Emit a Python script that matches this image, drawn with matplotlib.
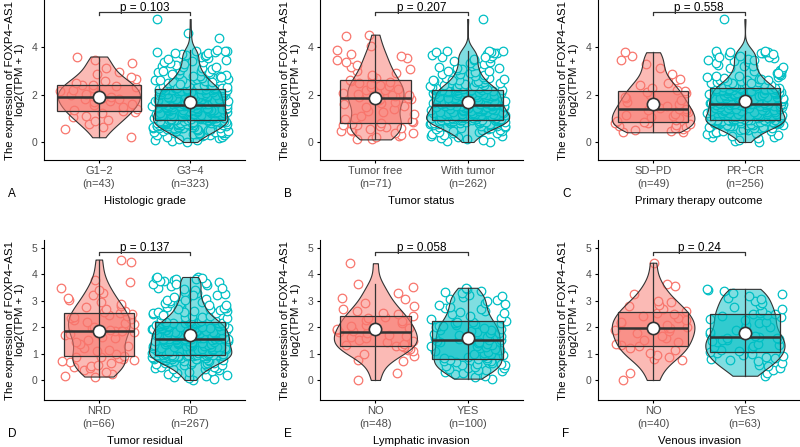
import matplotlib.pyplot as plt
import numpy as np
from matplotlib.colors import to_rgba
from matplotlib.patches import Rectangle

plt.rcParams["font.family"] = ["Liberation Sans", "DejaVu Sans"]

# ---- data (log2(TPM + 1) of FOXP4-AS1) ----
G1_2 = [0.20, 0.55, 0.63, 0.76, 0.87, 0.93, 1.06, 1.11, 1.22, 1.27,
        1.31, 1.34, 1.41, 1.47, 1.56, 1.58, 1.67, 1.71, 1.79, 1.82, 1.86,
        1.88, 1.93, 1.96, 2.03, 2.07, 2.16, 2.19, 2.27, 2.31, 2.34, 2.39,
        2.42, 2.49, 2.57, 2.66, 2.74, 2.86, 2.94, 3.12, 3.31, 3.46, 3.60]

G3_4 = [0.00, 0.04, 0.07, 0.10, 0.13, 0.16, 0.19, 0.22, 0.25, 0.28,
        0.29, 0.30, 0.31, 0.33, 0.34, 0.36, 0.37, 0.39, 0.40, 0.41,
        0.43, 0.44, 0.45, 0.47, 0.48, 0.49, 0.50, 0.51, 0.52, 0.53,
        0.55, 0.56, 0.57, 0.58, 0.59, 0.60, 0.60, 0.61, 0.62, 0.63,
        0.64, 0.64, 0.65, 0.66, 0.67, 0.67, 0.68, 0.69, 0.70, 0.70,
        0.71, 0.72, 0.73, 0.73, 0.74, 0.75, 0.76, 0.76, 0.77, 0.78,
        0.79, 0.79, 0.80, 0.81, 0.82, 0.82, 0.83, 0.84, 0.85, 0.85,
        0.86, 0.86, 0.87, 0.87, 0.88, 0.88, 0.89, 0.89, 0.90, 0.90,
        0.91, 0.91, 0.92, 0.93, 0.93, 0.94, 0.95, 0.96, 0.96, 0.97,
        0.98, 0.99, 0.99, 1.00, 1.01, 1.02, 1.02, 1.03, 1.04, 1.05,
        1.06, 1.06, 1.07, 1.08, 1.09, 1.09, 1.10, 1.11, 1.12, 1.13,
        1.14, 1.14, 1.15, 1.16, 1.17, 1.18, 1.18, 1.19, 1.20, 1.21,
        1.22, 1.23, 1.23, 1.24, 1.25, 1.26, 1.27, 1.27, 1.28, 1.29,
        1.30, 1.31, 1.31, 1.32, 1.33, 1.34, 1.35, 1.35, 1.36, 1.37,
        1.38, 1.39, 1.39, 1.40, 1.41, 1.42, 1.43, 1.43, 1.44, 1.45,
        1.46, 1.47, 1.47, 1.48, 1.49, 1.50, 1.51, 1.51, 1.52, 1.53,
        1.54, 1.55, 1.56, 1.57, 1.58, 1.58, 1.59, 1.60, 1.61, 1.62,
        1.63, 1.64, 1.65, 1.65, 1.66, 1.67, 1.68, 1.69, 1.70, 1.71,
        1.72, 1.72, 1.73, 1.74, 1.75, 1.76, 1.77, 1.78, 1.79, 1.80,
        1.80, 1.81, 1.82, 1.83, 1.84, 1.85, 1.86, 1.87, 1.88, 1.88,
        1.89, 1.90, 1.91, 1.92, 1.93, 1.94, 1.95, 1.96, 1.97, 1.98,
        1.99, 2.00, 2.01, 2.02, 2.03, 2.04, 2.05, 2.06, 2.07, 2.08,
        2.09, 2.10, 2.11, 2.12, 2.13, 2.14, 2.15, 2.16, 2.17, 2.18,
        2.19, 2.19, 2.20, 2.20, 2.21, 2.21, 2.22, 2.22, 2.22, 2.23,
        2.23, 2.24, 2.25, 2.26, 2.28, 2.29, 2.30, 2.31, 2.33, 2.34,
        2.35, 2.37, 2.38, 2.40, 2.41, 2.43, 2.44, 2.46, 2.47, 2.49,
        2.50, 2.52, 2.54, 2.55, 2.57, 2.59, 2.61, 2.63, 2.65, 2.67,
        2.69, 2.71, 2.73, 2.76, 2.78, 2.80, 2.83, 2.85, 2.88, 2.90,
        2.93, 2.96, 2.99, 3.02, 3.05, 3.08, 3.11, 3.14, 3.17, 3.20,
        3.23, 3.27, 3.31, 3.35, 3.39, 3.43, 3.47, 3.51, 3.55, 3.59,
        3.62, 3.65, 3.68, 3.71, 3.74, 3.76, 3.78, 3.80, 3.82, 3.84,
        2.27, 2.36, 2.45, 2.53, 2.62, 2.72, 2.86, 3.00,
        3.85, 3.86, 4.40, 4.58, 5.18]

TUMOR_FREE = [0.11, 0.14, 0.19, 0.25, 0.30, 0.36, 0.40, 0.45, 0.48, 0.52,
              0.55, 0.58, 0.62, 0.66, 0.70, 0.73, 0.77, 0.80,
              0.84, 0.90, 0.97, 1.03, 1.10, 1.18, 1.25, 1.32, 1.40, 1.47,
              1.53, 1.59, 1.65, 1.70, 1.75, 1.79, 1.83, 1.85,
              1.88, 1.92, 1.96, 2.00, 2.04, 2.08, 2.12, 2.17, 2.21, 2.25,
              2.30, 2.35, 2.39, 2.44, 2.49, 2.54, 2.58,
              2.62, 2.68, 2.75, 2.82, 2.90, 2.98, 3.06, 3.15, 3.24, 3.35,
              3.46, 3.55, 3.63, 3.72, 3.86, 4.05, 4.45, 4.52]

WITH_TUMOR = [0.00, 0.04, 0.09, 0.13, 0.17, 0.21, 0.24, 0.27, 0.31, 0.33,
              0.36, 0.38, 0.41, 0.43, 0.45, 0.47, 0.49, 0.52, 0.53, 0.55,
              0.57, 0.58, 0.60, 0.61, 0.63, 0.64, 0.66, 0.67, 0.68, 0.70,
              0.71, 0.72, 0.73, 0.74, 0.75, 0.76, 0.77, 0.78, 0.79, 0.80,
              0.81, 0.82, 0.82, 0.83, 0.84, 0.85, 0.85, 0.86, 0.87, 0.87,
              0.88, 0.88, 0.89, 0.89, 0.90, 0.90, 0.91, 0.91, 0.92, 0.92,
              0.92, 0.93, 0.93, 0.93, 0.93,
              0.94, 0.95, 0.96, 0.96, 0.97, 0.98, 0.99, 1.00, 1.01, 1.01,
              1.02, 1.03, 1.04, 1.05, 1.06, 1.06, 1.07, 1.08, 1.09, 1.10,
              1.11, 1.12, 1.12, 1.13, 1.14, 1.15, 1.16, 1.17, 1.18, 1.19,
              1.20, 1.21, 1.22, 1.23, 1.24, 1.25, 1.26, 1.27, 1.28, 1.29,
              1.30, 1.31, 1.32, 1.33, 1.34, 1.35, 1.36, 1.37, 1.38, 1.39,
              1.40, 1.41, 1.42, 1.43, 1.44, 1.45, 1.46, 1.47, 1.48, 1.49,
              1.50, 1.51, 1.52, 1.52, 1.53, 1.54,
              1.55, 1.56, 1.57, 1.58, 1.59, 1.60, 1.61, 1.62, 1.63, 1.64,
              1.65, 1.66, 1.67, 1.68, 1.69, 1.70, 1.71, 1.72, 1.73, 1.74,
              1.75, 1.76, 1.77, 1.79, 1.80, 1.81, 1.82, 1.83, 1.85, 1.86,
              1.87, 1.88, 1.89, 1.91, 1.92, 1.93, 1.94, 1.96, 1.97, 1.98,
              1.99, 2.01, 2.02, 2.03, 2.04, 2.06, 2.07, 2.08, 2.09, 2.10,
              2.11, 2.12, 2.13, 2.14, 2.15, 2.15, 2.16, 2.16, 2.17, 2.17,
              2.18, 2.18, 2.18, 2.19, 2.19,
              2.20, 2.22, 2.23, 2.25, 2.26, 2.28, 2.29, 2.31, 2.32, 2.34,
              2.36, 2.37, 2.39, 2.41, 2.43, 2.45, 2.47, 2.49, 2.51, 2.53,
              2.55, 2.57, 2.59, 2.62, 2.64, 2.66, 2.69, 2.71, 2.74, 2.76,
              2.79, 2.82, 2.85, 2.88, 2.91, 2.94, 2.97, 3.00, 3.04, 3.08,
              3.12, 3.16, 3.20, 3.24, 3.28, 3.32, 3.36, 3.41, 3.46, 3.51,
              3.55, 3.59, 3.63, 3.67, 3.70, 3.73, 3.76, 3.78, 3.80, 3.82,
              3.84, 3.85, 3.60, 3.10, 2.60, 5.18]

SD_PD = [0.41, 0.43, 0.46, 0.50, 0.55, 0.58, 0.62, 0.66, 0.70, 0.74, 0.78, 0.81,
         0.84,
         0.89, 0.94, 0.99, 1.05, 1.10, 1.15, 1.20, 1.25, 1.30, 1.34, 1.38,
         1.40,
         1.45, 1.51, 1.58, 1.64, 1.70, 1.77, 1.84, 1.91, 1.98, 2.05, 2.10,
         2.13,
         2.20, 2.28, 2.38, 2.50, 2.62, 2.64, 2.88, 3.10, 3.30, 3.45, 3.62, 3.78]

PR_CR = [0.00, 0.05, 0.10, 0.15, 0.19, 0.23, 0.27, 0.30, 0.33, 0.36,
         0.39, 0.41, 0.44, 0.46, 0.48, 0.50, 0.52, 0.54, 0.56, 0.58,
         0.59, 0.61, 0.62, 0.64, 0.65, 0.66, 0.68, 0.69, 0.70, 0.71,
         0.72, 0.73, 0.74, 0.75, 0.76, 0.77, 0.78, 0.79, 0.80, 0.80,
         0.81, 0.82, 0.83, 0.83, 0.84, 0.85, 0.85, 0.86, 0.87, 0.87,
         0.88, 0.88, 0.89, 0.89, 0.90, 0.90, 0.91, 0.91, 0.92, 0.92,
         0.92, 0.93, 0.93, 0.93,
         0.94, 0.95, 0.96, 0.97, 0.98, 0.99, 1.00, 1.01, 1.02, 1.03,
         1.04, 1.05, 1.06, 1.07, 1.09, 1.10, 1.11, 1.12, 1.13, 1.14,
         1.15, 1.16, 1.18, 1.19, 1.20, 1.21, 1.22, 1.23, 1.24, 1.26,
         1.27, 1.28, 1.29, 1.30, 1.31, 1.33, 1.34, 1.35, 1.36, 1.37,
         1.39, 1.40, 1.41, 1.42, 1.43, 1.45, 1.46, 1.47, 1.48, 1.49,
         1.50, 1.51, 1.52, 1.53, 1.54, 1.55, 1.56, 1.57, 1.58, 1.58,
         1.59, 1.59, 1.60, 1.60,
         1.61, 1.62, 1.63, 1.64, 1.65, 1.66, 1.67, 1.68, 1.69, 1.70,
         1.71, 1.72, 1.73, 1.74, 1.75, 1.77, 1.78, 1.79, 1.80, 1.81,
         1.82, 1.84, 1.85, 1.86, 1.87, 1.88, 1.90, 1.91, 1.92, 1.93,
         1.95, 1.96, 1.97, 1.98, 2.00, 2.01, 2.02, 2.03, 2.05, 2.06,
         2.07, 2.08, 2.10, 2.11, 2.12, 2.13, 2.14, 2.15, 2.16, 2.17,
         2.18, 2.19, 2.20, 2.21, 2.21, 2.22, 2.22, 2.23, 2.23, 2.24,
         2.24, 2.25, 2.25, 2.26,
         2.27, 2.29, 2.30, 2.32, 2.34, 2.35, 2.37, 2.39, 2.41, 2.43,
         2.45, 2.47, 2.49, 2.51, 2.53, 2.55, 2.58, 2.60, 2.62, 2.65,
         2.67, 2.70, 2.72, 2.75, 2.78, 2.81, 2.84, 2.87, 2.90, 2.94,
         2.97, 3.01, 3.05, 3.09, 3.13, 3.17, 3.21, 3.26, 3.31, 3.36,
         3.41, 3.46, 3.50, 3.54, 3.58, 3.62, 3.66, 3.70, 3.73, 3.76,
         3.79, 3.81, 3.83, 3.85, 2.50, 2.63, 2.76, 2.92, 3.18, 3.45,
         3.60, 3.72, 3.80, 5.18]

NRD = [0.13, 0.16, 0.22, 0.30, 0.38, 0.45, 0.50, 0.54, 0.58, 0.63,
       0.67, 0.70, 0.74, 0.78, 0.82, 0.86, 0.88, 0.92,
       1.00, 1.08, 1.15, 1.22, 1.30, 1.38, 1.45, 1.52, 1.58, 1.64,
       1.70, 1.75, 1.80, 1.84, 1.85, 1.87,
       1.91, 1.96, 2.01, 2.06, 2.11, 2.16, 2.21, 2.26, 2.30, 2.34,
       2.38, 2.42, 2.46, 2.50, 2.52, 2.56,
       2.62, 2.70, 2.78, 2.82, 2.88, 2.94, 3.02, 3.10, 3.20, 3.30,
       3.42, 3.50, 3.72, 3.80, 4.45, 4.56]

RD = [0.00, 0.04, 0.08, 0.12, 0.16, 0.20, 0.24, 0.28, 0.31, 0.34,
      0.37, 0.40, 0.42, 0.45, 0.47, 0.49, 0.51, 0.53, 0.55, 0.57,
      0.59, 0.60, 0.62, 0.63, 0.65, 0.66, 0.68, 0.69, 0.70, 0.72,
      0.73, 0.74, 0.75, 0.76, 0.77, 0.78, 0.79, 0.80, 0.81, 0.82,
      0.83, 0.83, 0.84, 0.85, 0.86, 0.86, 0.87, 0.88, 0.88, 0.89,
      0.89, 0.90, 0.90, 0.91, 0.91, 0.92, 0.92, 0.93, 0.93, 0.94,
      0.94, 0.94, 0.95, 0.95, 0.95, 0.95, 0.95,
      0.96, 0.97, 0.98, 0.99, 1.00, 1.01, 1.02, 1.03, 1.04, 1.05,
      1.06, 1.07, 1.08, 1.09, 1.10, 1.11, 1.12, 1.13, 1.14, 1.15,
      1.16, 1.17, 1.18, 1.19, 1.20, 1.21, 1.22, 1.23, 1.24, 1.25,
      1.26, 1.27, 1.28, 1.29, 1.30, 1.31, 1.32, 1.33, 1.34, 1.35,
      1.36, 1.37, 1.38, 1.39, 1.40, 1.41, 1.42, 1.43, 1.44, 1.45,
      1.46, 1.47, 1.48, 1.49, 1.50, 1.51, 1.52, 1.53, 1.54, 1.55,
      1.55, 1.56, 1.56, 1.56, 1.57, 1.57,
      1.57, 1.58, 1.59, 1.60, 1.61, 1.62, 1.63, 1.64, 1.65, 1.66,
      1.67, 1.68, 1.69, 1.70, 1.71, 1.72, 1.73, 1.74, 1.75, 1.76,
      1.77, 1.78, 1.79, 1.80, 1.81, 1.82, 1.83, 1.84, 1.85, 1.86,
      1.87, 1.88, 1.89, 1.90, 1.91, 1.92, 1.93, 1.94, 1.95, 1.96,
      1.97, 1.98, 1.99, 2.00, 2.01, 2.02, 2.03, 2.04, 2.05, 2.06,
      2.07, 2.08, 2.09, 2.10, 2.11, 2.12, 2.13, 2.14, 2.15, 2.16,
      2.16, 2.17, 2.17, 2.17, 2.18, 2.18, 2.18,
      2.19, 2.21, 2.23, 2.25, 2.27, 2.29, 2.31, 2.33, 2.35, 2.37,
      2.39, 2.41, 2.43, 2.45, 2.48, 2.50, 2.52, 2.55, 2.57, 2.60,
      2.62, 2.65, 2.68, 2.71, 2.74, 2.77, 2.80, 2.83, 2.86, 2.90,
      2.93, 2.97, 3.00, 3.04, 3.08, 3.12, 3.16, 3.20, 3.25, 3.30,
      3.35, 3.40, 3.45, 3.50, 3.55, 3.60, 3.64, 3.68, 3.72, 3.76,
      3.80, 3.83, 3.86, 3.88, 3.90, 2.46, 2.58, 2.70, 2.85, 3.02,
      3.22, 3.48, 3.62, 3.74, 3.84, 3.87, 3.89]

LYMPH_NO = [0.00, 0.27, 0.72, 0.76, 0.90, 1.00, 1.08, 1.13, 1.17, 1.21, 1.24, 1.27,
            1.29,
            1.33, 1.38, 1.43, 1.48, 1.53, 1.58, 1.63, 1.68, 1.72, 1.76, 1.80,
            1.84,
            1.88, 1.93, 1.98, 2.04, 2.10, 2.16, 2.22, 2.28, 2.33, 2.38, 2.42,
            2.50,
            2.55, 2.62, 2.70, 2.80, 2.92, 3.05, 3.12, 3.30, 3.52, 3.62, 4.42]

LYMPH_YES = [0.05, 0.10, 0.16, 0.22, 0.27, 0.30, 0.33, 0.36, 0.39, 0.42,
             0.45, 0.47, 0.50, 0.52, 0.55, 0.57, 0.59, 0.61, 0.63, 0.65,
             0.67, 0.70, 0.72, 0.74, 0.77, 0.79,
             0.82, 0.85, 0.88, 0.91, 0.94, 0.97, 1.00, 1.03, 1.06, 1.09,
             1.12, 1.15, 1.18, 1.21, 1.24, 1.27, 1.30, 1.33, 1.36, 1.39,
             1.42, 1.45, 1.48, 1.50, 1.52,
             1.55, 1.58, 1.61, 1.64, 1.67, 1.70, 1.73, 1.76, 1.79, 1.82,
             1.85, 1.88, 1.91, 1.94, 1.97, 2.00, 2.03, 2.06, 2.09, 2.12,
             2.15, 2.17, 2.19, 2.21, 2.25,
             2.30, 2.36, 2.42, 2.48, 2.53, 2.58, 2.63, 2.68, 2.73, 2.78,
             2.83, 2.88, 2.93, 2.98, 3.03, 3.08, 3.13, 3.18, 3.23, 3.28,
             3.33, 3.38, 3.44, 3.49]

VENOUS_NO = [0.00, 0.25, 0.75, 0.80, 0.88, 0.93, 1.02, 1.12, 1.20, 1.28,
             1.31,
             1.38, 1.45, 1.52, 1.60, 1.68, 1.76, 1.84, 1.90, 1.95,
             1.97,
             2.02, 2.08, 2.14, 2.20, 2.27, 2.34, 2.41, 2.48, 2.55,
             2.60,
             2.70, 2.80, 2.85, 2.95, 3.00, 3.25, 3.55, 3.62, 4.44]

VENOUS_YES = [0.16, 0.25, 0.38, 0.45, 0.52, 0.58, 0.64, 0.70, 0.74, 0.78,
              0.82, 0.87, 0.91, 0.96, 1.00, 1.04,
              1.06,
              1.10, 1.15, 1.20, 1.25, 1.30, 1.34, 1.38, 1.42, 1.46, 1.50,
              1.53, 1.56, 1.58, 1.60,
              1.61,
              1.68, 1.75, 1.82, 1.88, 1.95, 2.02, 2.08, 2.14, 2.20, 2.26,
              2.32, 2.37, 2.42, 2.46, 2.48,
              2.50,
              2.55, 2.62, 2.70, 2.78, 2.85, 2.92, 3.00, 3.06, 3.12, 3.18,
              3.25, 3.30, 3.36, 3.41, 3.45]

LETTERS = ["A", "B", "C", "D", "E", "F"]
XLABELS = ["Histologic grade", "Tumor status", "Primary therapy outcome",
           "Tumor residual", "Lymphatic invasion", "Venous invasion"]
CATEGORIES = [["G1\u22122", "G3\u22124"], ["Tumor free", "With tumor"],
              ["SD\u2212PD", "PR\u2212CR"], ["NRD", "RD"], ["NO", "YES"], ["NO", "YES"]]
COUNTS = [[43, 323], [71, 262], [49, 256], [66, 267], [48, 100], [40, 63]]
PVALUES = ["0.103", "0.207", "0.558", "0.137", "0.058", "0.24"]
GROUPS = [[G1_2, G3_4], [TUMOR_FREE, WITH_TUMOR], [SD_PD, PR_CR],
          [NRD, RD], [LYMPH_NO, LYMPH_YES], [VENOUS_NO, VENOUS_YES]]

COLORS = ["#F8766D", "#00BFC4"]
DARK = "#333333"
W, H = 800, 447
COLS_PX = [(44, 245), (320, 523), (598, 800)]
ROWS_PX = [(0, 160), (240, 400)]
YLIMS = [(-0.758, 5.98), (-0.758, 5.30)]
YTICKS = [[0, 2, 4], [0, 1, 2, 3, 4, 5]]
BRACKET_Y = [5.47, 4.84]


def nrd0(v):
    sd = v.std(ddof=1)
    q75, q25 = np.percentile(v, [75, 25])
    return 0.9 * min(sd, (q75 - q25) / 1.34) * len(v) ** -0.2


def density(v, grid):
    bw = nrd0(v)
    z = (grid[:, None] - v[None, :]) / bw
    return np.exp(-0.5 * z ** 2).sum(axis=1) / (len(v) * bw * np.sqrt(2 * np.pi))


def jitter(n, seed):
    # deterministic hash-style horizontal spread in [-0.5, 0.5)
    i = np.arange(n) + 1.0 + 97.0 * seed
    return (np.sin(i * 12.9898 + 78.233 * seed) * 43758.5453) % 1.0 - 0.5


def draw_panel(ax, groups, cats, counts, pval, row, pidx):
    ax.set_xlim(0.4, 2.6)
    ax.set_ylim(*YLIMS[row])

    # violin densities, scaled by area across the panel
    grids, dens = [], []
    for vals in groups:
        v = np.asarray(vals, dtype=float)
        g = np.linspace(v.min(), v.max(), 300)
        grids.append(g)
        dens.append(density(v, g))
    dmax = max(d.max() for d in dens)

    for k, vals in enumerate(groups):
        v = np.asarray(vals, dtype=float)
        x0 = k + 1
        col = COLORS[k]

        # jittered points
        offs = jitter(len(v), 2 * pidx + k) * 0.84
        ax.scatter(x0 + offs, v, s=38, facecolor="white", edgecolor=col,
                   linewidth=0.9, zorder=2)

        # violin
        hw = dens[k] / dmax * 0.45
        ax.fill_betweenx(grids[k], x0 - hw, x0 + hw, facecolor=to_rgba(col, 0.5),
                         edgecolor=DARK, linewidth=0.8, zorder=3)

        # box
        q1, med, q3 = np.percentile(v, [25, 50, 75])
        iqr = q3 - q1
        lo = v[v >= q1 - 1.5 * iqr].min()
        hi = v[v <= q3 + 1.5 * iqr].max()
        bw = 0.92 if (row == 0 and cats[k] == "G1\u22122") else 0.77
        ax.add_patch(Rectangle((x0 - bw / 2, q1), bw, iqr, facecolor=to_rgba(col, 0.6),
                               edgecolor=DARK, linewidth=0.9, zorder=4))
        ax.plot([x0, x0], [lo, hi], color=DARK, linewidth=0.9, zorder=5)
        ax.plot([x0 - bw / 2, x0 + bw / 2], [med, med], color=DARK, linewidth=1.8,
                solid_capstyle="butt", zorder=5)
        ax.scatter([x0], [v.mean()], s=78, facecolor="white", edgecolor=DARK,
                   linewidth=1.2, zorder=6)

    # p-value bracket
    yb = BRACKET_Y[row]
    tick = 0.12 if row == 0 else 0.11
    ax.plot([1, 1, 2, 2], [yb - tick, yb, yb, yb - tick], color=DARK,
            linewidth=0.9, zorder=6)
    ax.text(1.5, yb + 0.03, "p = " + pval, ha="center", va="baseline",
            fontsize=8.5, color="black")

    ax.set_xticks([1, 2])
    ax.set_xticklabels([f"{c}\n(n={n})" for c, n in zip(cats, counts)],
                       linespacing=1.3)
    ax.set_yticks(YTICKS[row])
    for s in ["top", "right"]:
        ax.spines[s].set_visible(False)
    for s in ["left", "bottom"]:
        ax.spines[s].set_linewidth(0.8)
    ax.tick_params(length=2.5, width=0.8, pad=2, labelsize=7.5, labelcolor="#4D4D4D")
    ax.tick_params(axis="x", labelsize=8)
    ax.set_ylabel("The expression of FOXP4\u2212AS1\nlog2(TPM + 1)", fontsize=8.2,
                  linespacing=1.1)
    ax.yaxis.set_label_coords(-0.093, 0.5)


fig = plt.figure(figsize=(W / 100, H / 100), dpi=100)

for i in range(6):
    row, col = divmod(i, 3)
    x0, x1 = COLS_PX[col]
    y0, y1 = ROWS_PX[row]
    ax = fig.add_axes([x0 / W, 1 - y1 / H, (x1 - x0) / W, (y1 - y0) / H])
    draw_panel(ax, GROUPS[i], CATEGORIES[i], COUNTS[i], PVALUES[i], row, i)
    ax.set_xlabel(XLABELS[i], fontsize=8.2, labelpad=5)
    fig.text((x0 - 36) / W, 1 - (y1 + 34) / H, LETTERS[i], fontsize=8.5,
             ha="left", va="center")

fig.savefig("out.png", dpi=100)
